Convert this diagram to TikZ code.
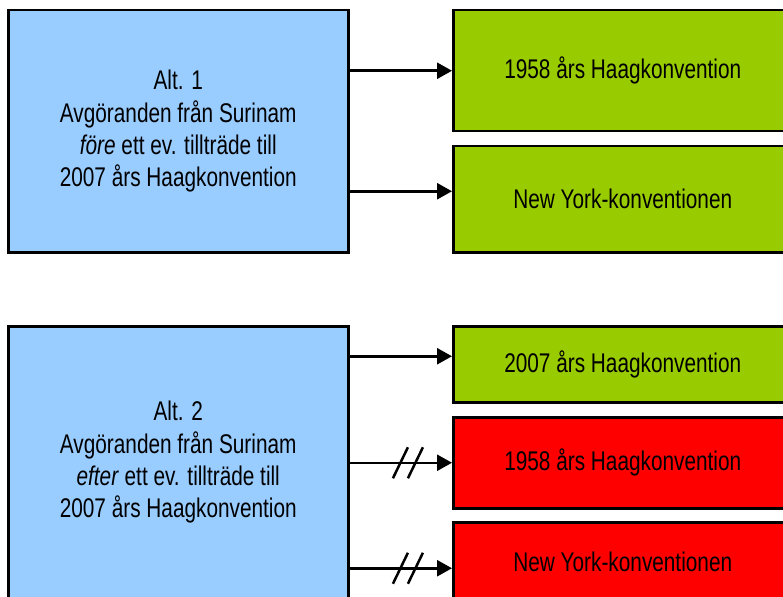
\documentclass[tikz,border=0pt]{standalone}
\usepackage{fontspec}
\setmainfont{Liberation Sans}[FakeStretch=0.77]
\usetikzlibrary{arrows.meta}
\definecolor{altblue}{HTML}{99CCFF}
\definecolor{okgreen}{HTML}{99CC00}
\definecolor{nored}{HTML}{FF0000}
\begin{document}
\begin{tikzpicture} [x = 1pt, y = -1pt, line width = 2.5pt,
        box/.style = {draw, anchor = north west, align = center, inner sep = 0pt, font = \fontsize{27}{32.3}\selectfont},
        alt/.style = {box, fill = altblue, minimum width = 340},
        conv/.style = {box, minimum width = 339},
        arr/.style = {-{Triangle[length = 15pt, width = 16pt]}}]
        \useasboundingbox (0,0) rectangle (783,596);
        \clip (0,0) rectangle (783,596);

        \node [alt, minimum height = 242] (alt1) at (7,9) {Alt. 1\\Avgöranden från Surinam\\\emph{före} ett ev. tillträde till\\2007 års Haagkonvention};
        \node [conv, fill = okgreen, minimum height = 121] (g1) at (452,9) {1958 års Haagkonvention};
        \node [conv, fill = okgreen, minimum height = 106] (g2) at (452,145) {New York-konventionen};

        \node [alt, minimum height = 272] (alt2) at (7,325) {Alt. 2\\Avgöranden från Surinam\\\emph{efter} ett ev. tillträde till\\2007 års Haagkonvention};
        \node [conv, fill = okgreen, minimum height = 76] (g3) at (452,325) {2007 års Haagkonvention};
        \node [conv, fill = nored, minimum height = 91] (r1) at (452,416) {1958 års Haagkonvention};
        \node [conv, fill = nored, minimum height = 80] (r2) at (452,521) {New York-konventionen};

        \coordinate (p2) at ([yshift = 8pt] g2.west);
        \coordinate (p3) at ([yshift = 8pt] g3.west);
        \coordinate (p5) at ([yshift = -6pt] r2.west);

        \draw [arr] (alt1.east |- g1.west) -- (g1.west);
        \draw [arr] (alt1.east |- p2) -- (p2);
        \draw [arr] (alt2.east |- p3) -- (p3);
        \draw [arr] (alt2.east |- r1.west) -- coordinate [pos = 0.57] (m1) (r1.west);
        \draw [arr] (alt2.east |- p5) -- coordinate [pos = 0.57] (m2) (p5);

        % not valid any more
        \foreach \m in {m1, m2}
            \foreach \dx in {-7.5, 7.5}
                \draw ([xshift = \dx pt] \m) +(-7.5,15.5) -- +(7.5,-15.5);

    \end{tikzpicture}
\end{document}
